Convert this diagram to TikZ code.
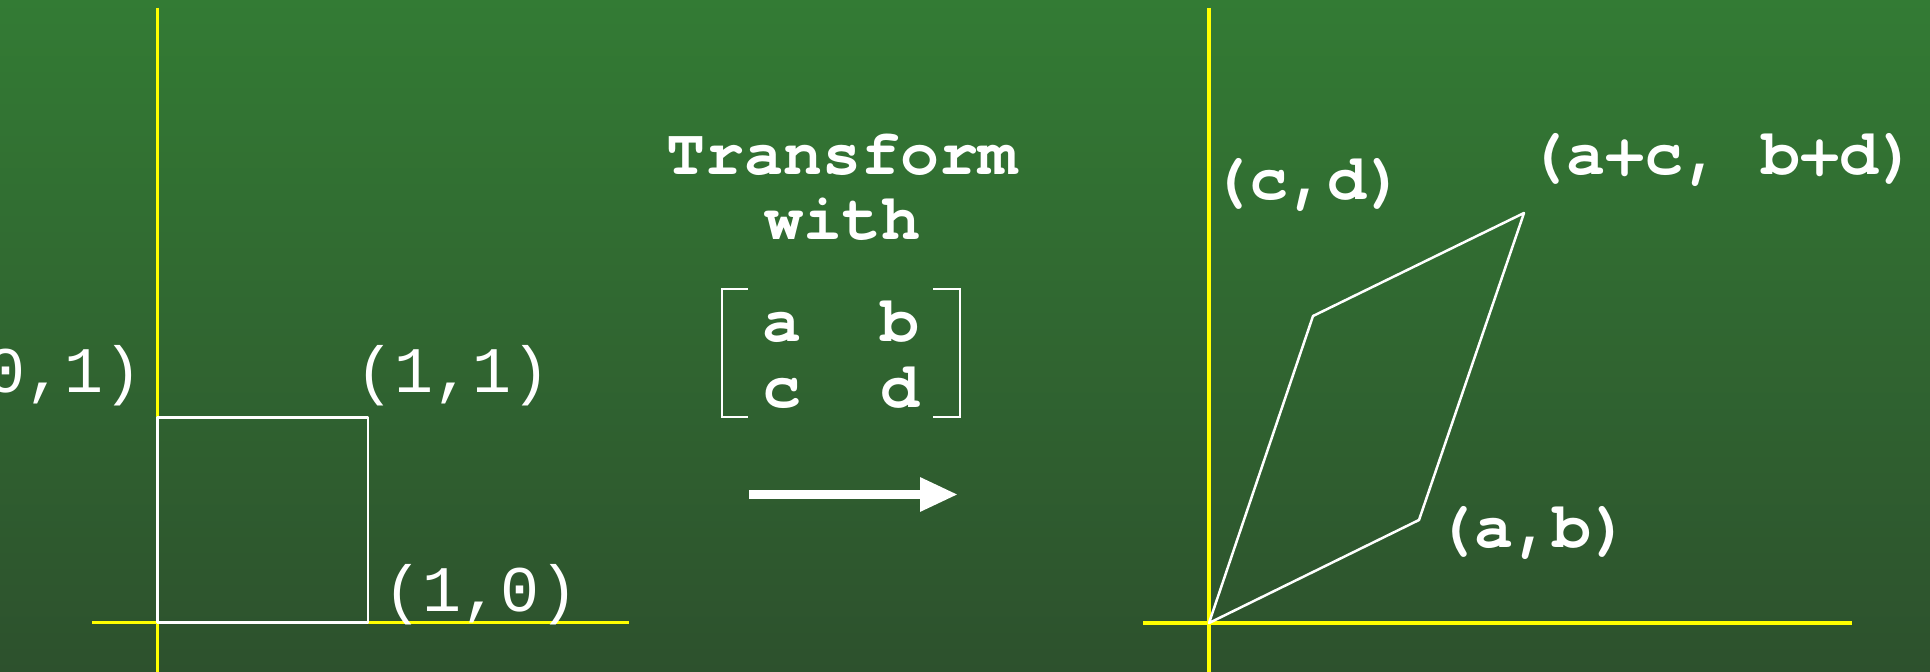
\documentclass[tikz,border=0pt]{standalone}
\usepackage{fontspec}
\usepackage{tikz}
\usetikzlibrary{arrows.meta,positioning}
\newfontfamily\pointfont{Liberation Mono}
\newfontfamily\slidefont{texgyrecursor-bold.otf}
\definecolor{boardtop}{RGB}{51,123,52}
\definecolor{boardbottom}{RGB}{45,81,45}
\definecolor{axisyellow}{RGB}{255,255,0}
\tikzset{
  axis/.style={draw=axisyellow, line width=1.6pt},
  figline/.style={draw=white, line width=1.25pt, line join=round},
  ptlabel/.style={text=white, font=\pointfont\fontsize{32.5}{32.5}\selectfont, anchor=base west, inner sep=0pt},
  veclabel/.style={text=white, font=\slidefont\fontsize{32.5}{32.5}\selectfont, anchor=base west, inner sep=0pt},
  caption/.style={text=white, font=\slidefont\fontsize{32.5}{32.5}\selectfont, anchor=base, align=center, inner sep=0pt},
  entry/.style={text=white, font=\slidefont\fontsize{32.5}{33}\selectfont, anchor=base, inner sep=0pt},
  bracket/.style={draw=white, line width=1pt},
  bigarrow/.style={draw=white, line width=4.5pt, -{Triangle[length=19pt,width=16pt]}}
}
\begin{document}
\begin{tikzpicture}[x=0.5pt, y=-0.5pt]
  \path[shade, top color=boardtop, bottom color=boardbottom, use as bounding box] (0,0) rectangle (1930,672);

  % unit square
  \coordinate (o1) at (157.5,622.7);
  \coordinate (e1) at (368,622.7);
  \coordinate (e2) at (157.5,417.5);
  \coordinate (e12) at (368,417.5);
  \draw[axis] (92,622.7) -- (629,622.7);
  \draw[axis] (157.5,8) -- (157.5,672);
  \draw[figline] (o1) -- (e1) -- (e12) -- (e2) -- cycle;
  \node[ptlabel] (p01) at (-53,393) {(0,1)};
  \node[ptlabel] (p11) at (355,393) {(1,1)};
  \node[ptlabel] (p10) at (383,611) {(1,0)};

  % matrix
  \node[caption] (title) at (842,240) {Transform\\with};
  \node[entry] (ma) at (782,342) {a};
  \node[entry] (mb) at (900,342) {b};
  \node[entry] (mc) at (782,408) {c};
  \node[entry] (md) at (900,408) {d};
  \draw[bracket] (748,289) -| (722,417) -- (748,417);
  \draw[bracket] (933,289) -| (959.5,417) -- (933,417);
  \coordinate (arrowtail) at (749,494.5);
  \coordinate (arrowtip) at (958,494.5);
  \draw[bigarrow] (arrowtail) -- (arrowtip);

  % parallelogram
  \coordinate (o2) at (1209,623);
  \coordinate (ab) at (1419,520);
  \coordinate (cd) at (1313,316);
  \coordinate (abcd) at (1524,213);
  \draw[axis] (1143,623) -- (1852,623);
  \draw[axis] (1209,8) -- (1209,672);
  \draw[figline] (o2) -- (ab) -- (abcd) -- (cd) -- cycle;
  \node[veclabel] (pcd) at (1210,200) {(c,d)};
  \node[veclabel] (pab) at (1435,547) {(a,b)};
  \node[veclabel] (pabcd) at (1527,175) {(a+c, b+d)};
\end{tikzpicture}
\end{document}
